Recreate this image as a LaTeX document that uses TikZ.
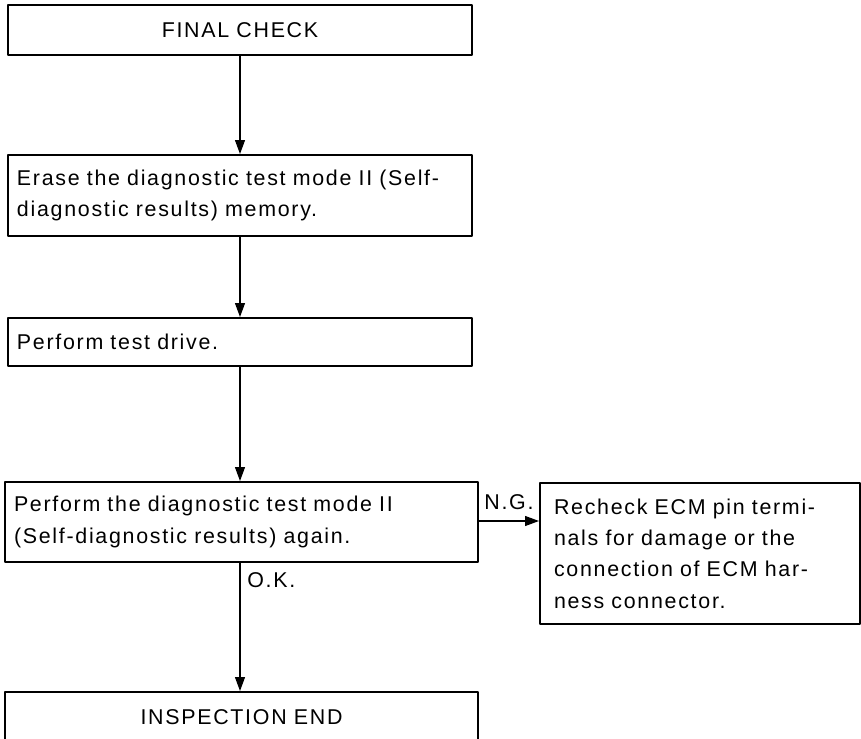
\documentclass[tikz,border=0pt]{standalone}
\usepackage{fontspec}
\setmainfont{Liberation Sans}[LetterSpace=8]
\usetikzlibrary{arrows.meta}

\begin{document}
\begin{tikzpicture}[
		x=0.5pt, y=-0.5pt,
		font=\fontsize{10.7}{15.7}\selectfont,
		line join=round,
		>={Triangle[length=7pt, width=5pt]}
		]
		
		\useasboundingbox (0,0) rectangle (861,738);
		\clip (0,0) rectangle (861,738);
		
		\tikzset{
			box/.style={draw, line width=1pt, inner xsep=4.5pt, inner ysep=0pt, 
				text width=223pt, align=left},
			flow/.style={->, line width=0.6pt}
		}
		
		\node[box, align=center, minimum height=25pt] (final) at (240,30) {FINAL CHECK};
		\node[box, minimum height=40.5pt] (erase) at (240,195.5) 
		{Erase the diagnostic test mode II (Self-\\diagnostic results) memory.};
		\node[box, minimum height=24pt] (drive) at (240,342) {Perform test drive.};
		\node[box, text width=227.5pt, minimum height=40pt] (diag) at (241.5,522) 
		{Perform the diagnostic test mode II\\(Self-diagnostic results) again.};
		\node[box, inner xsep=7pt, text width=146pt, minimum height=70.5pt] (recheck) at (700,553.5) 
		{Recheck ECM pin termi-\\nals for damage or the\\connection of ECM har-\\ness connector.};
		\node[box, align=center, text width=227.5pt, minimum height=25pt] (end) at (241.5,717) 
		{INSPECTION END};
		
		\draw[flow] (final.south -| 240,0) -- (erase.north -| 240,0);
		\draw[flow] (erase.south -| 240,0) -- (drive.north -| 240,0);
		\draw[flow] (drive.south -| 240,0) -- (diag.north -| 240,0);
		\draw[flow] (diag.south -| 240,0) -- (end.north -| 240,0) 
		node[pos=0.13, right] (ok) {O.K.};
		\draw[flow] (diag.east |- 0,521) -- (recheck.west |- 0,521) 
		node[pos=0.5, above=2pt] (ng) {N.G.};
		
	\end{tikzpicture}
\end{document}
